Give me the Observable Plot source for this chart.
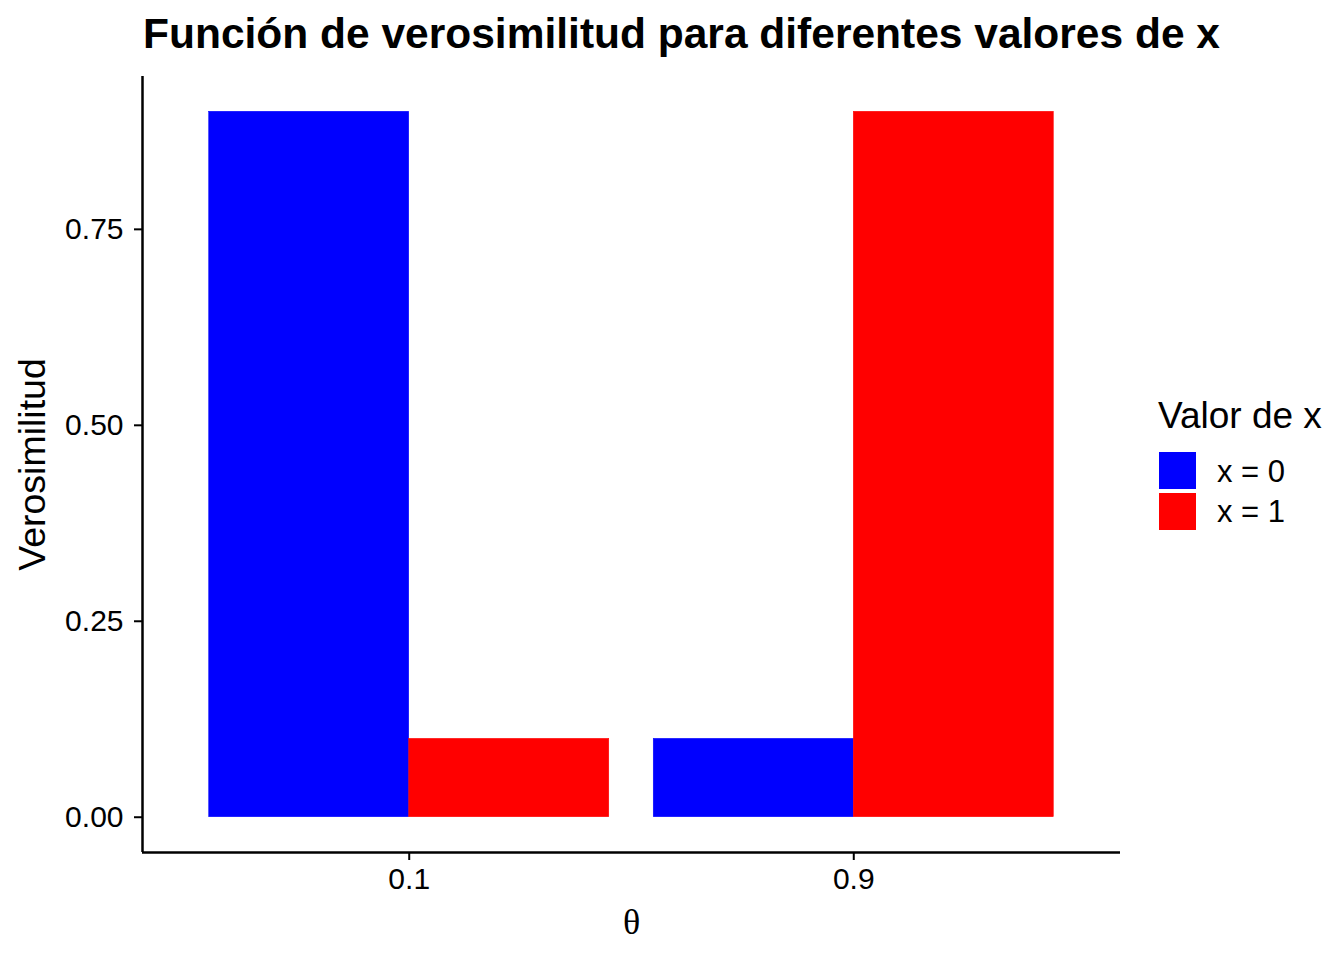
<!DOCTYPE html>
<html>
<head>
<meta charset="utf-8">
<script src="https://cdn.jsdelivr.net/npm/d3@7"></script>
<script src="https://cdn.jsdelivr.net/npm/@observablehq/plot@0.6"></script>
<style>
  html, body { margin: 0; padding: 0; background: #fff; }
  #wrap { position: relative; width: 1344px; height: 960px; font-family: "Liberation Sans", Arial, sans-serif; color: #000; }
  #title { position: absolute; left: 143px; top: 13px; font-size: 42.5px; font-weight: bold; line-height: 42px; white-space: nowrap; }
  #legend { position: absolute; left: 0; top: 0; }
  .lt { position: absolute; white-space: nowrap; line-height: 1; }
  .sw { position: absolute; width: 37px; height: 37px; }
</style>
</head>
<body>
<div id="wrap">
  <div id="chart"></div>
  <div id="title">Función de verosimilitud para diferentes valores de x</div>
  <div id="legend"></div>
</div>
<script>
// ---- data ----
const thetas = ["0.1", "0.9"];
const groups = ["x = 0", "x = 1"];
const likX0 = [0.9, 0.1];
const likX1 = [0.1, 0.9];
const colors = ["blue", "red"];
const yTicks = [0, 0.25, 0.5, 0.75];
const yLabel = "Verosimilitud";
const xLabel = "θ";
const legendTitle = "Valor de x";

// build table (dodged bars: width 0.9 per theta group)
const dodgeW = 0.45;
const rows = [];
thetas.forEach((t, i) => {
  [likX0, likX1].forEach((s, g) => {
    const c = i + 1;
    rows.push({theta: t, group: groups[g], value: s[i],
      x1: c - dodgeW + g * dodgeW, x2: c - dodgeW + (g + 1) * dodgeW});
  });
});

const yMax = d3.max(rows, d => d.value);
const yPad = yMax * 0.05;
const yDom = [-yPad, yMax + yPad];
const xDom = [1 - 0.6, thetas.length + 0.6];

const plot = Plot.plot({
  width: 1344,
  height: 960,
  marginLeft: 142,
  marginRight: 224,
  marginTop: 76,
  marginBottom: 108,
  style: {fontFamily: "'Liberation Sans', Arial, sans-serif", background: "#fff", color: "#000"},
  x: {domain: xDom, axis: null},
  y: {domain: yDom, axis: null},
  color: {domain: groups, range: colors},
  marks: [
    Plot.rectY(rows, {x1: "x1", x2: "x2", y1: 0, y2: "value", fill: "group", stroke: "group", strokeWidth: 0.5}),
    Plot.axisY({ticks: yTicks, tickFormat: d3.format(".2f"), tickSize: 8, tickPadding: 11, fontSize: 30, label: null, strokeWidth: 2}),
    Plot.axisX({ticks: thetas.map((t, i) => i + 1), tickFormat: d => thetas[d - 1], tickSize: 8, tickPadding: 7, fontSize: 30, label: null, strokeWidth: 2}),
    Plot.ruleX([xDom[0]], {stroke: "#000", strokeWidth: 2.5}),
    Plot.ruleY([yDom[0]], {stroke: "#000", strokeWidth: 2.5}),
    Plot.text([yLabel], {frameAnchor: "left", textAnchor: "middle", rotate: -90, dx: -110, fontSize: 37.5, text: d => d, fill: "#000"}),
    Plot.text([xLabel], {frameAnchor: "bottom", dy: 81, fontSize: 36, text: d => d, fill: "#000", fontFamily: "'Liberation Serif', 'DejaVu Serif', serif"})
  ]
});
document.getElementById("chart").appendChild(plot);

// legend
const leg = document.getElementById("legend");
const lt = document.createElement("div");
lt.className = "lt";
lt.style.fontSize = "37px";
lt.style.left = "1158px";
lt.style.top = "397px";
lt.textContent = legendTitle;
leg.appendChild(lt);
groups.forEach((g, i) => {
  const sw = document.createElement("div");
  sw.className = "sw";
  sw.style.left = "1159px";
  sw.style.top = (452 + i * 41) + "px";
  sw.style.background = colors[i];
  leg.appendChild(sw);
  const lab = document.createElement("div");
  lab.className = "lt";
  lab.style.fontSize = "31px";
  lab.style.left = "1217px";
  lab.style.top = (455.5 + i * 40) + "px";
  lab.textContent = g;
  leg.appendChild(lab);
});
</script>
</body>
</html>
